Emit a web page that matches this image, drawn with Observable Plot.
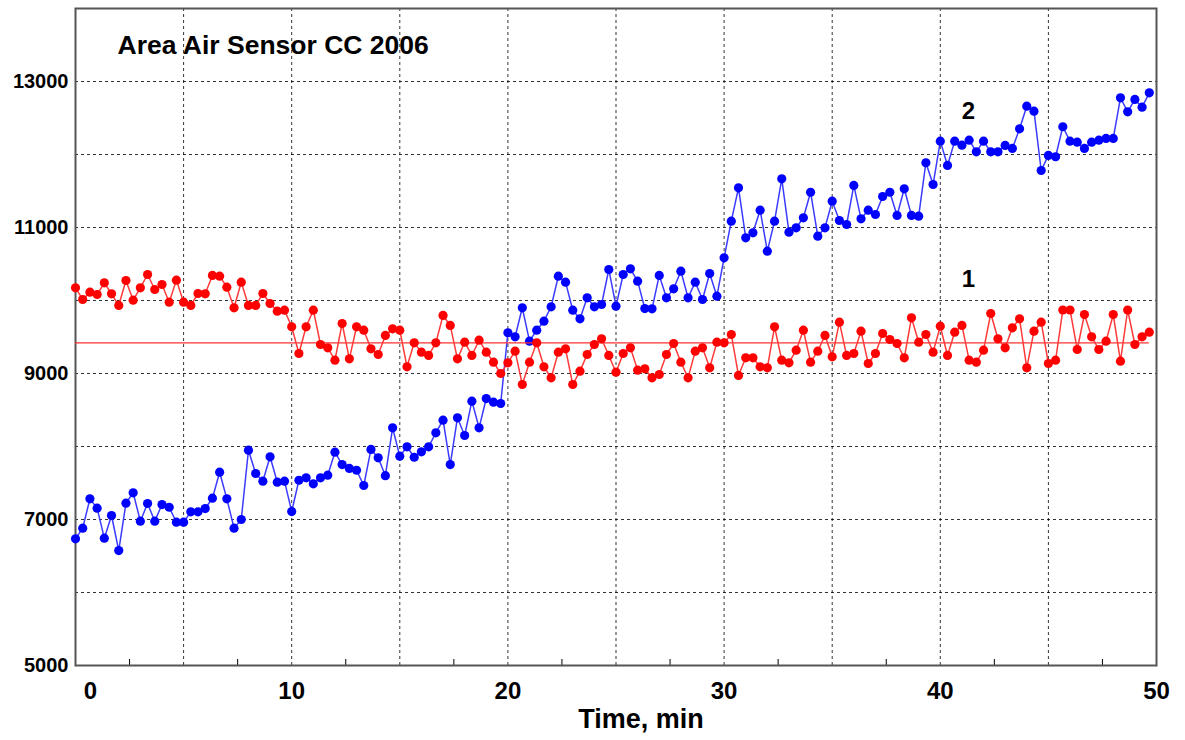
<!DOCTYPE html>
<html>
<head>
<meta charset="utf-8">
<script src="https://cdn.jsdelivr.net/npm/d3@7"></script>
<script src="https://cdn.jsdelivr.net/npm/@observablehq/plot@0.6"></script>
<style>
  html, body { margin: 0; padding: 0; background: #fff; }
  #chart { width: 1185px; height: 740px; }
</style>
</head>
<body>
<div id="chart"></div>
<script>
// ---- data ----
const chartTitle = "Area Air Sensor CC 2006";
const xAxisLabel = "Time, min";
const sampleStepMin = 1 / 3; // one reading every 20 s

const series2Values = [
  6735, 6881, 7283, 7155, 6744, 7055, 6575, 7223, 7366, 6977,
  7219, 6977, 7205, 7168, 6963, 6963, 7105, 7105, 7150, 7292,
  7648, 7283, 6881, 7000, 7949, 7630, 7525, 7859, 7511, 7525,
  7109, 7538, 7571, 7489, 7571, 7607, 7922, 7753, 7699, 7675,
  7466, 7960, 7845, 7600, 8256, 7867, 7996, 7853, 7927, 7996,
  8188, 8361, 7753, 8393, 8151, 8621, 8256, 8657, 8607, 8589,
  9558, 9503, 9900, 9443, 9593, 9717, 9914, 10333, 10251, 9867,
  9749, 10037, 9914, 9945, 10425, 9922, 10356, 10434, 10265, 9890,
  9886, 10343, 10037, 10160, 10402, 10037, 10251, 10014, 10370, 10059,
  10585, 11087, 11544, 10859, 10927, 11237, 10676, 11087, 11667, 10936,
  10996, 11133, 11483, 10881, 10996, 11361, 11096, 11041, 11576, 11119,
  11237, 11178, 11425, 11483, 11165, 11530, 11165, 11155, 11887, 11589,
  12183, 11850, 12183, 12128, 12196, 12037, 12183, 12037, 12037, 12124,
  12083, 12352, 12662, 12594, 11781, 11987, 11969, 12380, 12183, 12169,
  12083, 12169, 12196, 12220, 12220, 12777, 12585, 12754, 12648, 12845
];

const series1Values = [
  10174, 10014, 10114, 10082, 10242, 10092, 9932, 10274, 10005, 10174,
  10356, 10151, 10219, 9977, 10279, 9977, 9932, 10096, 10092, 10343,
  10333, 10183, 9900, 10251, 9932, 9932, 10096, 9959, 9854, 9867,
  9640, 9274, 9640, 9867, 9397, 9352, 9182, 9685, 9201, 9640,
  9593, 9338, 9260, 9521, 9612, 9593, 9092, 9420, 9292, 9247,
  9420, 9795, 9658, 9201, 9429, 9247, 9456, 9292, 9155, 9000,
  9146, 9306, 8849, 9155, 9420, 9092, 8941, 9292, 9338, 8849,
  9032, 9260, 9397, 9475, 9247, 9018, 9274, 9352, 9046, 9064,
  8941, 8986, 9260, 9411, 9155, 8941, 9306, 9352, 9078, 9429,
  9420, 9534, 8973, 9215, 9215, 9092, 9078, 9640, 9182, 9146,
  9320, 9593, 9155, 9306, 9521, 9228, 9703, 9247, 9274, 9580,
  9137, 9274, 9548, 9466, 9411, 9215, 9763, 9429, 9534, 9292,
  9648, 9247, 9566, 9658, 9182, 9155, 9320, 9822, 9475, 9352,
  9626, 9749, 9078, 9580, 9703, 9137, 9182, 9870, 9870, 9329,
  9808, 9503, 9329, 9443, 9808, 9169, 9870, 9397, 9503, 9566
];

const series1Level = 9420; // horizontal reference line of series 1

const seriesLabels = [
  { name: "2", t: 41.3, v: 12590 },
  { name: "1", t: 41.3, v: 10290 }
];

const xDomain = [0, 50];
const yDomain = [5000, 14000];
const xLabelTicks = [10, 20, 30, 40, 50];
const xFirstLabelTick = [0];
const xGridTicks = [5, 10, 15, 20, 25, 30, 35, 40, 45];
const xMinorTicks = [2.5, 7.5, 12.5, 17.5, 22.5, 27.5, 32.5, 37.5, 42.5, 47.5];
const yGridTicks = [6000, 7000, 8000, 9000, 10000, 11000, 12000, 13000];
const yLabelTicks = [5000, 7000, 9000, 11000, 13000];

// ---- tables ----
const s2 = series2Values.map((v, i) => ({ t: i * sampleStepMin, v }));
const s1 = series1Values.map((v, i) => ({ t: i * sampleStepMin, v }));
const tLast = s1[s1.length - 1].t;

const font = "'Liberation Sans', Arial, Helvetica, sans-serif";
const grid = { stroke: "#000", strokeOpacity: 0.8, strokeWidth: 1, strokeDasharray: "3,3" };

const chart = Plot.plot({
  width: 1185,
  height: 740,
  marginLeft: 75,
  marginRight: 29,
  marginTop: 8,
  marginBottom: 75,
  x: { domain: xDomain },
  y: { domain: yDomain },
  style: { fontFamily: font, background: "#fff", color: "#000" },
  marks: [
    Plot.gridX(xGridTicks, grid),
    Plot.gridY(yGridTicks, grid),
    Plot.tickX(xMinorTicks, { x: d => d, insetTop: 651, stroke: "#000", strokeWidth: 1 }),
    Plot.axisY(yLabelTicks, {
      tickSize: 0, tickPadding: 7, fontSize: 20, fontWeight: "bold",
      fill: "#000", label: null, tickFormat: d => String(d)
    }),
    Plot.axisX(xLabelTicks, {
      tickSize: 0, tickPadding: 16, fontSize: 24, fontWeight: "bold",
      fill: "#000", label: null, tickFormat: d => String(d)
    }),
    Plot.axisX(xFirstLabelTick, {
      tickSize: 0, tickPadding: 16, fontSize: 24, fontWeight: "bold",
      fill: "#000", label: null, dx: 15, tickFormat: d => String(d)
    }),
    Plot.text([xAxisLabel], {
      frameAnchor: "bottom", dx: 25, dy: 43, lineAnchor: "top",
      fontSize: 27, fontWeight: "bold", fill: "#000"
    }),
    Plot.frame({ stroke: "#555", strokeWidth: 2 }),
    // series 2 (blue)
    Plot.line(s2, { x: "t", y: "v", stroke: "#3b3bff", strokeWidth: 1.5 }),
    Plot.dot(s2, { x: "t", y: "v", r: 4.6, fill: "#0000ff", stroke: "none" }),
    // reference level of series 1
    Plot.ruleY([series1Level], { x1: 0, x2: tLast, stroke: "#ff3030", strokeWidth: 1.3 }),
    // series 1 (red)
    Plot.line(s1, { x: "t", y: "v", stroke: "#ff3a3a", strokeWidth: 1.5 }),
    Plot.dot(s1, { x: "t", y: "v", r: 4.6, fill: "#ff0000", stroke: "none" }),
    // labels
    Plot.text(seriesLabels, {
      x: "t", y: "v", text: "name", fontSize: 24, fontWeight: "bold", fill: "#000"
    }),
    Plot.text([chartTitle], {
      frameAnchor: "top-left", dx: 42, dy: 27, lineAnchor: "top", textAnchor: "start",
      fontSize: 26.5, fontWeight: "bold", fill: "#000"
    })
  ]
});

document.getElementById("chart").appendChild(chart);
</script>
</body>
</html>
